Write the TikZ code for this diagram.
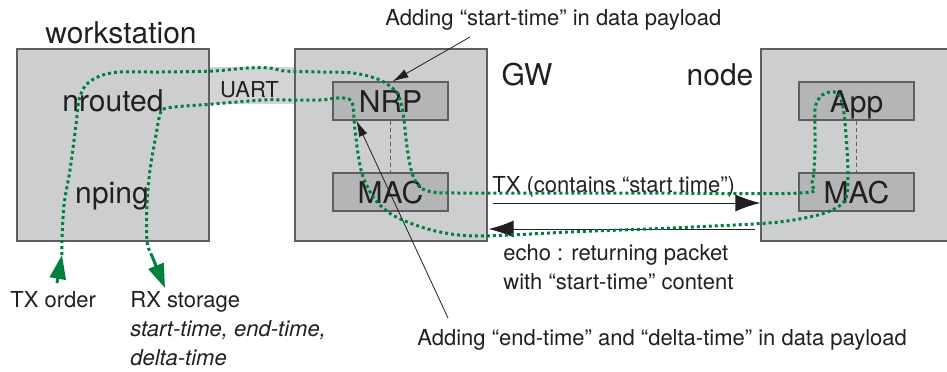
\documentclass[tikz,border=0pt]{standalone}
\usepackage{fontspec}
\setmainfont{TeX Gyre Heros}
\usetikzlibrary{arrows.meta}
\definecolor{boxgray}{RGB}{205,206,208}
\definecolor{bandgray}{RGB}{212,212,214}
\definecolor{layergray}{RGB}{180,181,183}
\definecolor{edgegray}{RGB}{95,95,97}
\definecolor{pathgreen}{RGB}{0,128,62}
\definecolor{ink}{RGB}{35,31,32}
\begin{document}
\begin{tikzpicture}[x=0.5pt,y=-0.5pt,
  device/.style={draw=edgegray, fill=boxgray, line width=0.6pt, inner sep=0},
  layer/.style={draw=edgegray, fill=layergray, line width=0.6pt, inner sep=0,
    minimum width=57.5pt, minimum height=19pt, text=ink,
    font=\fontsize{15}{18}\selectfont, text height=11pt, text depth=0pt},
  big/.style={font=\fontsize{15}{18}\selectfont, text=ink, inner sep=0, anchor=base},
  small/.style={font=\fontsize{11}{14.5}\selectfont, text=ink, inner sep=0,
    align=left, anchor=base west},
  msg/.style={-{Latex[length=12.5pt,width=8.5pt]}, line width=0.5pt, ink},
  note/.style={-{Latex[length=8pt,width=4.5pt]}, line width=0.4pt, ink},
  link/.style={draw=edgegray, dash pattern=on 2pt off 1.5pt, line width=0.4pt},
  greentrace/.style={pathgreen, line width=1.5pt, dash pattern=on 1.5pt off 1.5pt},
  greentip/.style={pathgreen, line width=1.5pt, -{Triangle[length=12pt,width=8pt]}}]
\useasboundingbox (0,0) rectangle (947,371);

% boxes
\node[fill=bandgray, minimum width=43pt, minimum height=18.5pt, inner sep=0] (uart) at (252,85.5) {};
\node[device, minimum width=96pt, minimum height=96pt] (ws) at (113,145) {};
\node[device, minimum width=96pt, minimum height=96pt] (gw) at (391,145) {};
\node[device, minimum width=100pt, minimum height=96pt] (nd) at (861,145) {};
\node[layer] (nrp) at (390.5,101) {NRP};
\node[layer] (gmac) at (390.5,192) {MAC};
\node[layer] (app) at (856.5,101) {App};
\node[layer] (nmac) at (856.5,192) {MAC};
\draw[link] (nrp.south) -- (gmac.north);
\draw[link] (app.south) -- (nmac.north);

% labels
\node[big] (wslabel) at (121,43) {workstation};
\node[big] (gwlabel) at (527,85) {GW};
\node[big] (ndlabel) at (720,85) {node};
\node[big] (nrouted) at (113,111) {nrouted};
\node[big] (nping) at (112,203) {nping};
\node[small, anchor=base] (uartlabel) at (249.5,97) {UART};
\node[small] (addst) at (385,25) {Adding “start-time” in data payload};
\node[small] (txlabel) at (492,192) {TX (contains “start time”)};
\node[small] (echo) at (503,289) {echo : returning packet\\with “start-time” content};
\node[small] (addet) at (417,345) {Adding “end-time” and “delta-time” in data payload};
\node[small] (txo) at (10,307) {TX order};
\node[small] (rx) at (130,365) {RX storage\\\textit{start-time, end-time,}\\\textit{delta-time}};

% messages
\coordinate (txlev) at (493,203);
\coordinate (echolev) at (755,229);
\draw[msg] (txlev) -- (nd.west |- txlev);
\draw[msg] (echolev) -- ([xshift=0.5pt]gw.east |- echolev);
\coordinate (stfoot) at (470,37);
\coordinate (etfoot) at (448,318);
\draw[note] (stfoot) -- ([xshift=1pt]nrp.north);
\draw[note] (etfoot) -- ([xshift=12pt]nrp.south west);

% packet trace
\coordinate (txorg) at (57,283);
\coordinate (rxend) at (165,288);
\draw[greentip] (txorg) -- (62,255);
\draw[greentrace] plot[smooth, tension=0.55] coordinates {
  (62,255) (62,241) (64,205) (70,170) (76,125) (79,100) (86,85) (100,76)
  (120,72) (160,72) (213,71) (247,68) (270,68) (285,71) (320,72) (353,73)
  (380,80) (397,93) (403,113) (407,147) (412,173) (420,187) (433,192)
  (460,193) (640,193) (800,193) (812,183) (815,150) (815,110) (820,97)
  (830,92) (838,94) (843,107) (846,135) (848,173) (846,198) (836,208)
  (818,215) (787,221) (753,224) (670,228) (570,232) (480,236) (440,232)
  (410,223) (388,212) (372,195) (361,170) (355,130) (353,106) (349,99)
  (337,98) (320,100) (290,100) (263,100) (213,104) (167,108) (160,115)
  (156,135) (150,170) (147,205) (147,241) (152,256)};
\draw[greentip] (152,256) -- (rxend);
\end{tikzpicture}
\end{document}
